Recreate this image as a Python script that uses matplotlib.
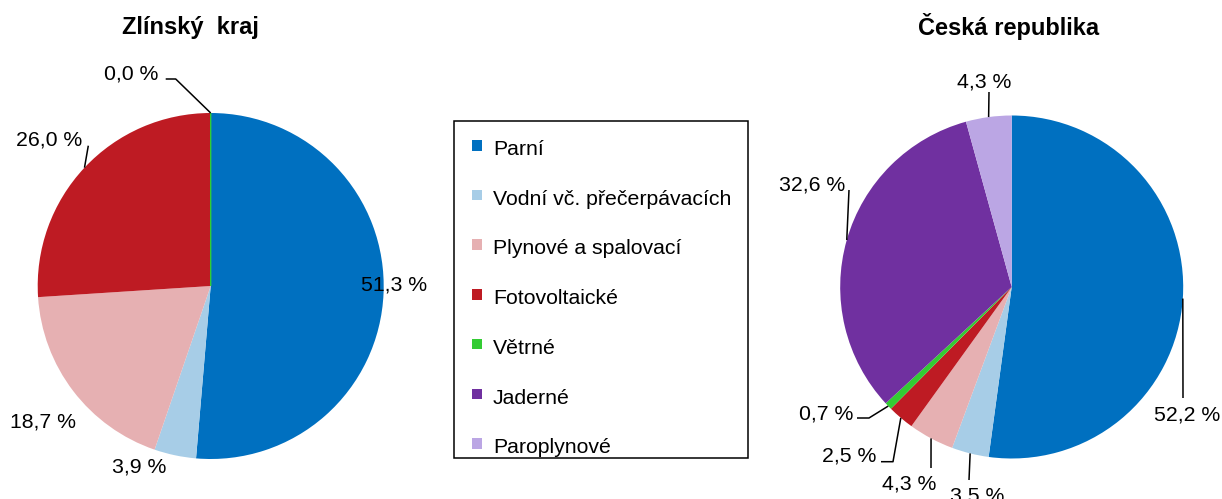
import matplotlib
matplotlib.use("Agg")
import matplotlib.pyplot as plt
from matplotlib.patches import Rectangle
import numpy as np

# ---- data ----
categories = ["Parní", "Vodní vč. přečerpávacích", "Plynové a spalovací",
              "Fotovoltaické", "Větrné", "Jaderné", "Paroplynové"]
colors = ["#0070C0", "#A7CDE7", "#E6B0B2", "#BE1B23", "#33CC33", "#7030A0", "#BBA6E4"]
zlinsky_values = [51.3, 3.9, 18.7, 26.0, 0.0, None, None]
cr_values = [52.2, 3.5, 4.3, 2.5, 0.7, 32.6, 4.3]
titles = ["Zlínský  kraj", "Česká republika"]

# ---- layout (pixel coords, y from top) ----
W, H = 1222, 499
plt.rcParams['font.family'] = ['Liberation Sans', 'DejaVu Sans']
fig = plt.figure(figsize=(W / 100, H / 100), dpi=100)
ax = fig.add_axes([0, 0, 1, 1])

def Y(y):
    return H - y

pies = [
    dict(values=zlinsky_values, center=(210.7, 286.0), radius=173.0, title_xy=(190.5, 34.3),
         labels={0: ((394, 290.7), []),
                 1: ((139, 472.7), []),
                 2: ((42.5, 427.7), []),
                 3: ((49, 145.7), [(88.3, 145.7)]),
                 4: ((131, 79), [(175.7, 79), (165.7, 79)])}),
    dict(values=cr_values, center=(1011.7, 287.0), radius=171.5, title_xy=(1009, 35),
         labels={0: ((1186.7, 420.7), [(1183, 398)]),
                 1: ((977.5, 501.7), [(969, 480)]),
                 2: ((908.8, 490), [(931, 468)]),
                 3: ((849.5, 461.7), [(893, 461.7), (881, 461.7)]),
                 4: ((826, 420), [(869, 418), (857, 418)]),
                 5: ((812, 190), [(849, 190)]),
                 6: ((983.7, 87.7), [(989, 92)])}),
]

LABEL_FS = 15.3
for k, p in enumerate(pies):
    vals = [0.0 if v is None else v for v in p["values"]]
    cx, cy = p["center"]
    wedges, _ = ax.pie(vals, colors=colors, startangle=90, counterclock=False,
                       center=(cx, Y(cy)), radius=p["radius"],
                       wedgeprops=dict(linewidth=0))
    for i, (w, v) in enumerate(zip(wedges, p["values"])):
        if v is not None and v == 0.0:
            w.set_edgecolor(colors[i])
            w.set_linewidth(1.0)
        if i not in p["labels"] or v is None:
            continue
        (tx, ty), leader = p["labels"][i]
        mid = np.deg2rad((w.theta1 + w.theta2) / 2)
        ax_x = cx + p["radius"] * np.cos(mid)
        ax_y = Y(cy) + p["radius"] * np.sin(mid)
        if leader:
            xs = [ax_x] + [q[0] for q in leader]
            ys = [ax_y] + [Y(q[1]) for q in leader]
            ax.plot(xs, ys, color="black", lw=1.1, solid_capstyle="butt")
        txt = f"{v:.1f}".replace(".", ",") + " %"
        ax.text(tx, Y(ty), txt, fontsize=LABEL_FS, ha="center", va="baseline", color="black")
    ax.text(p["title_xy"][0], Y(p["title_xy"][1]), titles[k], fontsize=17,
            fontweight="bold", ha="center", va="baseline")

# ---- legend ----
ax.add_patch(Rectangle((454, Y(458)), 748 - 454, 458 - 121, fill=False,
                       edgecolor="black", lw=1.1))
for i, (cat, col) in enumerate(zip(categories, colors)):
    base = 155 + 49.7 * i
    ax.add_patch(Rectangle((472, Y(base - 4.5)), 9.5, 10.5, facecolor=col, edgecolor="none"))
    ax.text(493, Y(base), cat, fontsize=LABEL_FS, ha="left", va="baseline")

ax.set_xlim(0, W)
ax.set_ylim(0, H)
ax.set_aspect("equal")
ax.axis("off")
fig.savefig("out.png", dpi=100)
